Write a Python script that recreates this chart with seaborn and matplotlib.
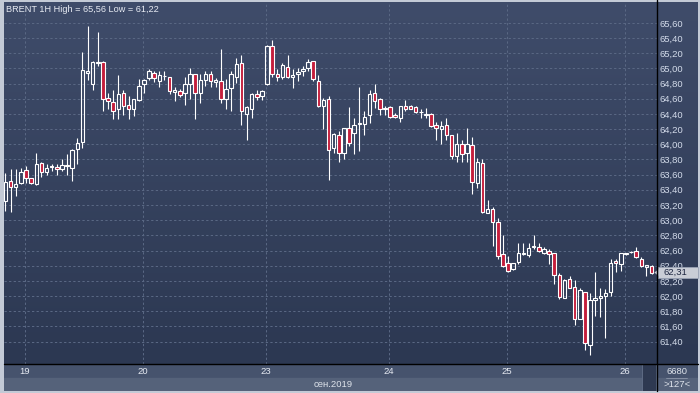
import numpy as np
import pandas as pd
import seaborn as sns
import matplotlib.pyplot as plt
from matplotlib.patches import Rectangle, Polygon
from matplotlib.lines import Line2D
from matplotlib.transforms import Affine2D, blended_transform_factory
from matplotlib.colors import LinearSegmentedColormap

# hourly Brent candles, 18-26 Sep 2019
opens = [63.25, 63.51, 63.44, 63.49, 63.66, 63.55, 63.47, 63.75, 63.63, 63.70,
         63.70, 63.68, 63.73, 63.69, 63.94, 64.03, 64.94, 64.79, 65.07, 65.09,
         64.61, 64.56, 64.46, 64.68, 64.52, 64.47, 64.58, 64.80, 64.87, 64.94,
         64.83, 64.90, 64.89, 64.69, 64.70, 64.68, 64.79, 64.92, 64.68, 64.85,
         64.93, 64.82, 64.83, 64.60, 64.74, 64.89, 65.07, 64.40, 64.47, 64.66,
         64.64, 64.80, 65.30, 64.92, 64.88, 65.02, 64.88, 64.93, 64.97, 65.01,
         65.10, 64.84, 64.51, 64.59, 63.95, 64.12, 63.89, 64.22, 64.15, 64.27,
         64.27, 64.38, 64.67, 64.59, 64.47, 64.49, 64.39, 64.35, 64.50, 64.50,
         64.49, 64.42, 64.39, 64.40, 64.25, 64.20, 64.25, 64.12, 63.85, 64.00,
         63.88, 63.99, 63.49, 63.75, 63.10, 63.15, 62.97, 62.56, 62.43, 62.36,
         62.45, 62.56, 62.54, 62.65, 62.65, 62.57, 62.60, 62.57, 62.28, 61.98,
         62.23, 62.12, 61.70, 62.06, 61.35, 61.95, 61.97, 62.00, 62.05, 62.46,
         62.42, 62.56, 62.58, 62.59, 62.49, 62.38, 62.39]
highs = [63.62, 63.68, 63.68, 63.69, 63.71, 63.56, 63.88, 63.77, 63.74, 63.74,
         63.74, 63.81, 63.87, 63.94, 64.08, 65.21, 65.56, 65.10, 65.48, 65.10,
         64.68, 64.72, 64.91, 64.71, 64.63, 64.60, 64.86, 64.86, 64.99, 64.96,
         64.97, 64.97, 64.89, 64.75, 64.73, 64.89, 65.01, 64.93, 64.92, 64.96,
         64.96, 64.87, 65.26, 64.86, 64.96, 65.14, 65.17, 64.50, 64.68, 64.72,
         64.72, 65.31, 65.38, 64.99, 65.07, 65.17, 64.99, 65.01, 65.03, 65.13,
         65.10, 64.91, 64.61, 64.64, 64.15, 64.18, 64.22, 64.49, 64.35, 64.76,
         64.44, 64.72, 64.80, 64.61, 64.51, 64.50, 64.41, 64.51, 64.58, 64.52,
         64.51, 64.46, 64.48, 64.41, 64.29, 64.30, 64.35, 64.12, 64.15, 64.06,
         64.22, 64.09, 63.82, 63.80, 63.27, 63.18, 63.03, 62.81, 62.53, 62.44,
         62.70, 62.70, 62.70, 62.81, 62.70, 62.64, 62.62, 62.57, 62.30, 62.23,
         62.26, 62.21, 62.11, 62.06, 62.04, 62.32, 62.11, 62.09, 62.49, 62.49,
         62.57, 62.57, 62.59, 62.64, 62.51, 62.41, 62.41]
lows = [63.12, 63.11, 63.32, 63.47, 63.49, 63.48, 63.46, 63.57, 63.60, 63.65,
        63.60, 63.65, 63.60, 63.52, 63.74, 63.95, 64.85, 64.72, 65.03, 64.44,
        64.46, 64.33, 64.33, 64.39, 64.33, 64.37, 64.57, 64.68, 64.85, 64.82,
        64.76, 64.85, 64.66, 64.57, 64.62, 64.52, 64.59, 64.33, 64.55, 64.77,
        64.75, 64.75, 64.55, 64.46, 64.44, 64.81, 64.26, 64.06, 64.35, 64.58,
        64.58, 64.78, 64.88, 64.83, 64.86, 64.87, 64.74, 64.83, 64.90, 64.96,
        64.84, 64.49, 64.20, 63.53, 63.89, 63.77, 63.81, 63.98, 63.87, 63.91,
        64.12, 64.28, 64.48, 64.39, 64.39, 64.35, 64.35, 64.29, 64.44, 64.46,
        64.41, 64.35, 64.35, 64.23, 64.06, 64.00, 64.06, 63.80, 63.77, 63.77,
        63.77, 63.34, 63.43, 63.10, 63.10, 62.66, 62.49, 62.38, 62.32, 62.34,
        62.42, 62.54, 62.52, 62.62, 62.58, 62.55, 62.42, 62.16, 61.96, 61.97,
        62.10, 61.62, 61.70, 61.29, 61.22, 61.74, 61.72, 61.45, 62.00, 62.32,
        62.33, 62.54, 62.57, 62.50, 62.38, 62.27, 62.29]
closes = [63.50, 63.44, 63.48, 63.64, 63.56, 63.49, 63.74, 63.64, 63.69, 63.71,
          63.67, 63.73, 63.71, 63.93, 64.02, 64.98, 64.96, 65.09, 65.08, 64.60,
          64.57, 64.44, 64.66, 64.50, 64.47, 64.59, 64.77, 64.85, 64.96, 64.87,
          64.91, 64.90, 64.70, 64.72, 64.65, 64.80, 64.93, 64.68, 64.85, 64.92,
          64.83, 64.85, 64.60, 64.73, 64.92, 65.06, 64.44, 64.49, 64.66, 64.62,
          64.70, 65.30, 64.92, 64.88, 65.04, 64.88, 64.91, 64.95, 64.99, 65.09,
          64.86, 64.50, 64.58, 63.93, 64.13, 63.89, 64.21, 64.02, 64.26, 64.28,
          64.36, 64.66, 64.57, 64.47, 64.47, 64.36, 64.36, 64.50, 64.46, 64.47,
          64.42, 64.42, 64.39, 64.24, 64.22, 64.24, 64.12, 63.85, 64.01, 63.87,
          64.00, 63.50, 63.76, 63.11, 63.15, 62.98, 62.53, 62.40, 62.33, 62.43,
          62.57, 62.56, 62.63, 62.65, 62.60, 62.62, 62.56, 62.28, 61.99, 62.21,
          62.11, 61.70, 62.08, 61.38, 61.95, 61.98, 62.00, 62.04, 62.44, 62.43,
          62.57, 62.56, 62.58, 62.52, 62.39, 62.41, 62.31]

day_labels = ['19', '20', '23', '24', '25', '26']
day_start = [4, 27, 51, 75, 98, 121]
price_ticks = np.round(np.arange(61.4, 65.61, 0.2), 2)
last_price = closes[-1]

df = pd.DataFrame({'open': opens, 'high': highs, 'low': lows, 'close': closes})
df['bar'] = np.arange(len(df))
df['top'] = df[['open', 'close']].max(axis=1)
df['bottom'] = df[['open', 'close']].min(axis=1)
df['height'] = (df['top'] - df['bottom']).clip(lower=0.006)
df['bull'] = df['close'] >= df['open']

W, H = 700, 393
sns.set_theme(style='dark')
plt.rcParams['font.family'] = ['Liberation Sans', 'DejaVu Sans']

fig = plt.figure(figsize=(7, 3.93), dpi=100, facecolor='#c3cad6')
pix = Affine2D().scale(1 / W, -1 / H).translate(0, 1) + fig.transFigure


def px_axes(x0, y0, x1, y1):
    return fig.add_axes([x0 / W, 1 - y1 / H, (x1 - x0) / W, (y1 - y0) / H])


grad = LinearSegmentedColormap.from_list('bg', ['#3f4c6a', '#2c3852'])

# gradient behind plot and price panel
bg = px_axes(4, 1.5, 698, 364)
bg.imshow(np.linspace(0, 1, 200).reshape(-1, 1), aspect='auto', cmap=grad,
          extent=[0, 1, 0, 1])
bg.set_axis_off()

# date bands at the bottom
band = px_axes(4, 364, 698, 391)
band.set_xlim(0, 694)
band.set_ylim(27, 0)
band.add_patch(Rectangle((0, 0), 694, 14, color='#46536d'))
band.add_patch(Rectangle((0, 14), 694, 13, color='#55627a'))
band.add_patch(Rectangle((638, 0), 14, 27, facecolor='#2e3951', edgecolor='#5e6b84', lw=0.7))
band.set_axis_off()

ax = px_axes(4, 1.5, 657, 364)
ax.set_facecolor('none')
grid_c = '#596783'
for p in price_ticks:
    ax.axhline(p, color=grid_c, lw=0.75, dashes=(2.2, 2.2), zorder=1)
for d in day_start:
    ax.axvline(d - 0.2, color=grid_c, lw=0.75, dashes=(2.2, 2.2), zorder=1)

ax.vlines(df['bar'], df['top'], df['high'], color='white', lw=0.8, zorder=3)
ax.vlines(df['bar'], df['low'], df['bottom'], color='white', lw=0.8, zorder=3)
bull = df[df['bull']]
bear = df[~df['bull']]
ax.bar(bull['bar'], bull['height'], bottom=bull['bottom'], width=0.68,
       facecolor='none', edgecolor='white', lw=0.8, zorder=4)
ax.bar(bear['bar'], bear['height'], bottom=bear['bottom'], width=0.68,
       facecolor='#c41e3c', edgecolor='white', lw=0.8, zorder=4)

ax.set_xlim(-0.29, 127.05)
ax.set_ylim(61.105, 65.881)
ax.yaxis.tick_right()
ax.set_yticks(price_ticks, [f'{p:.2f}'.replace('.', ',') for p in price_ticks])
ax.set_xticks([d - 0.2 for d in day_start], day_labels)
ax.tick_params(axis='y', length=0, pad=2, labelsize=6.8, labelcolor='#d3dbea')
ax.tick_params(axis='x', length=0, pad=2.2, labelsize=6.8, labelcolor='#e6eaf2')
ax.grid(False)
for s in ax.spines.values():
    s.set_visible(False)

# last price marker
blend = blended_transform_factory(ax.transAxes, ax.transData)
ax.add_patch(Rectangle((1.0015, last_price - 0.075), 0.0615, 0.15, transform=blend,
                       facecolor='#c9cdd6', edgecolor='#99a2b4', lw=0.6,
                       clip_on=False, zorder=10))
ax.add_patch(Polygon([(0.996, last_price), (1.0025, last_price + 0.045),
                      (1.0025, last_price - 0.045)], closed=True, transform=blend,
                     facecolor='#c9cdd6', edgecolor='none', clip_on=False, zorder=10))
ax.text(1.0095, last_price, f'{last_price:.2f}'.replace('.', ','), transform=blend,
        va='center', ha='left', fontsize=6.8, color='#1c2540', clip_on=False, zorder=11)

# separators
fig.add_artist(Line2D([657, 657], [0, 391], transform=pix, color='black', lw=1))
fig.add_artist(Line2D([4, 698], [364, 364], transform=pix, color='black', lw=1))
fig.add_artist(Line2D([666, 687], [378, 378], transform=pix, color='#8c96a9', lw=0.6))

fig.text(5.5, 9.5, 'BRENT 1H High = 65,56 Low = 61,22', transform=pix,
         ha='left', va='center', fontsize=6.6, color='#e8ecf4')
fig.text(333, 384.5, 'сен.2019', transform=pix, ha='center', va='center',
         fontsize=6.8, color='#dde2ea')
fig.text(677, 371.5, '6680', transform=pix, ha='center', va='center',
         fontsize=6.8, color='#dde2ea')
fig.text(677, 384.5, f'>{len(df)}<', transform=pix, ha='center', va='center',
         fontsize=6.8, color='#dde2ea')

plt.savefig('out.png', dpi=100, facecolor=fig.get_facecolor())
